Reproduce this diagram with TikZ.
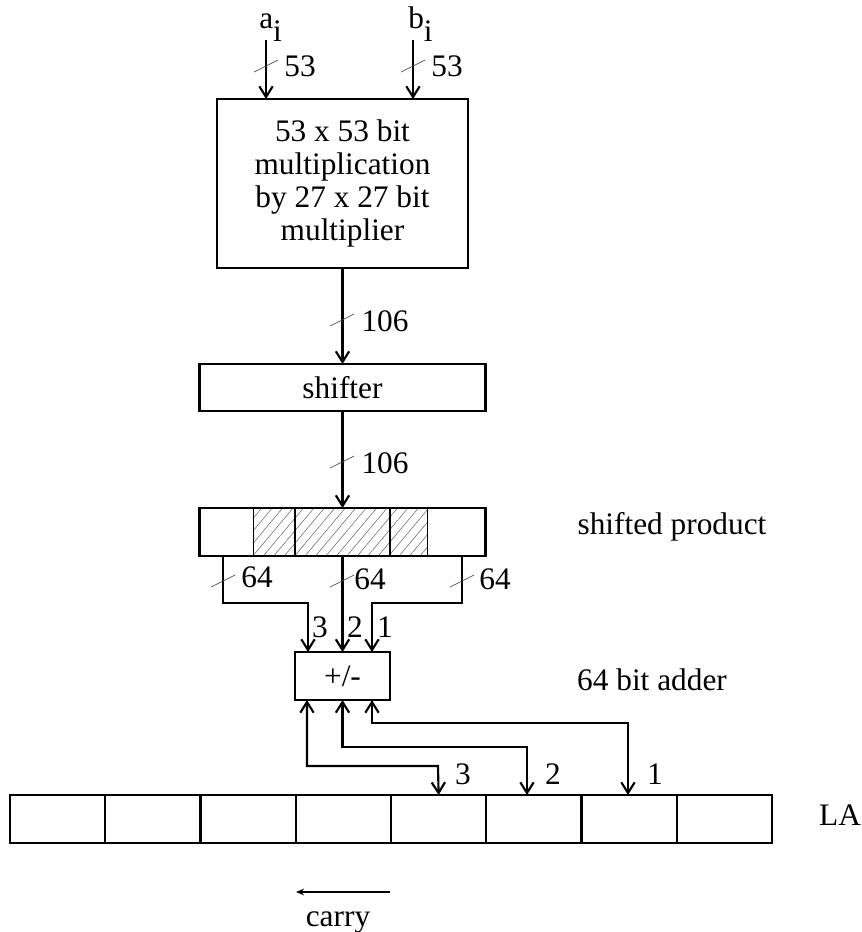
\documentclass[tikz,border=0pt]{standalone}
\usepackage{fontspec}
\setmainfont{Liberation Serif}
\usetikzlibrary{arrows.meta,positioning,calc,patterns.meta}

\begin{document}
\begin{tikzpicture}[
  x=0.75pt, y=-0.75pt,
  font=\fontsize{23.5}{24.75}\selectfont,
  >={Straight Barb[length=8pt,width=10pt]},
  block/.style={rectangle, draw, line width=1.6pt, outer sep=0pt,
    inner sep=0pt, align=center},
  cell/.style={rectangle, draw, line width=1.6pt, outer sep=0pt,
    minimum width=71.44pt, minimum height=36pt},
  arr/.style={->, line width=1.6pt},
  dbl/.style={<->, line width=1.6pt},
  wire/.style={line width=1.6pt},
  busmark/.style={line width=0.5pt, color=black!70},
  lbl/.style={inner sep=0pt},
]
\useasboundingbox (0,0) rectangle (861,932);

% inputs
\node[lbl, anchor=base west] (ain) at (259,28) {a\raisebox{-10pt}{i}};
\node[lbl, anchor=base west] (bin) at (408,28) {b\raisebox{-10pt}{i}};

% blocks
\node[block, minimum width=188.25pt, minimum height=126.75pt] (mult)
  at (342.5,183.5)
  {53 x 53 bit\\multiplication\\by 27 x 27 bit\\multiplier};
\node[block, minimum width=214.5pt, minimum height=35.25pt] (shift)
  at (342.5,387.5) {shifter};
\node[block, minimum width=214.5pt, minimum height=36pt] (prod)
  at (342.5,532) {};
\node[block, minimum width=71.25pt, minimum height=36pt] (adder)
  at (342.5,676) {+/-};

% hatched part of the shifted product
\fill[pattern={Lines[angle=50,distance=6pt,line width=0.4pt]},
  pattern color=black!60] (253,508) rectangle (427,556);
\draw[line width=0.6pt] (253,508) -- (253,556) (427,508) -- (427,556);
\draw[wire] (295,508) -- (295,556) (390,508) -- (390,556);
\draw[block] (prod.north west) rectangle (prod.south east);

% LA register
\foreach \i in {0,...,7}
  \node[cell] (la\i) at ({57.6+95.25*\i},819) {};

% side texts
\node[lbl] (sp)  at (672,527) {shifted product};
\node[lbl] (ba)  at (652,680) {64 bit adder};
\node[lbl] (lab) at (840,815) {LA};

% arrows into the multiplier and down the chain
\coordinate (ma) at (266,99);
\coordinate (mb) at (413,99);
\draw[arr] (266,40) -- (ma);
\draw[arr] (413,40) -- (mb);
\draw[arr] (mult.south) -- (shift.north);
\draw[arr] (shift.south) -- (prod.north);

% three taps of the product into the adder
\coordinate (t3) at (223,556);
\coordinate (t1) at (462,556);
\coordinate (a3) at (308,652);
\coordinate (a1) at (372,652);
\draw[arr] (t3) -- (223,603) -| (a3);
\draw[arr] (prod.south) -- (adder.north);
\draw[arr] (t1) -- (462,603) -| (a1);

% adder to and from the LA register
\coordinate (b3) at (307,700);
\coordinate (b1) at (372,700);
\draw[dbl] (b3) |- (438,766) -- (la4.north);
\draw[dbl] (adder.south) |- (527,747) -- (527,795);
\draw[dbl] (b1) |- (628,723) -- (628,795);

% bus widths
\foreach \x/\y in {266/66, 413/66, 342/320, 342/462,
                   223/581, 342/581, 462/581}
  \draw[busmark] (\x-12,\y+6) -- (\x+12,\y-6);
\node[lbl] (w1) at (300,66)  {53};
\node[lbl] (w2) at (447,66)  {53};
\node[lbl] (w3) at (385,321) {106};
\node[lbl] (w4) at (385,463) {106};
\node[lbl] (w5) at (257,577) {64};
\node[lbl] (w6) at (370,579) {64};
\node[lbl] (w7) at (495,579) {64};

% port numbers
\node[lbl] (n3) at (320,627) {3};
\node[lbl] (n2) at (355,627) {2};
\node[lbl] (n1) at (385,627) {1};
\node[lbl] (m3) at (463,774) {3};
\node[lbl] (m2) at (553,774) {2};
\node[lbl] (m1) at (655,774) {1};

% carry direction
\coordinate (cs) at (390,892);
\coordinate (ce) at (296,892);
\draw[->, line width=1pt, >={Stealth[length=6pt,width=5pt]}] (cs) -- (ce);
\node[lbl, anchor=base] (carry) at (338,926) {carry};
\end{tikzpicture}
\end{document}
